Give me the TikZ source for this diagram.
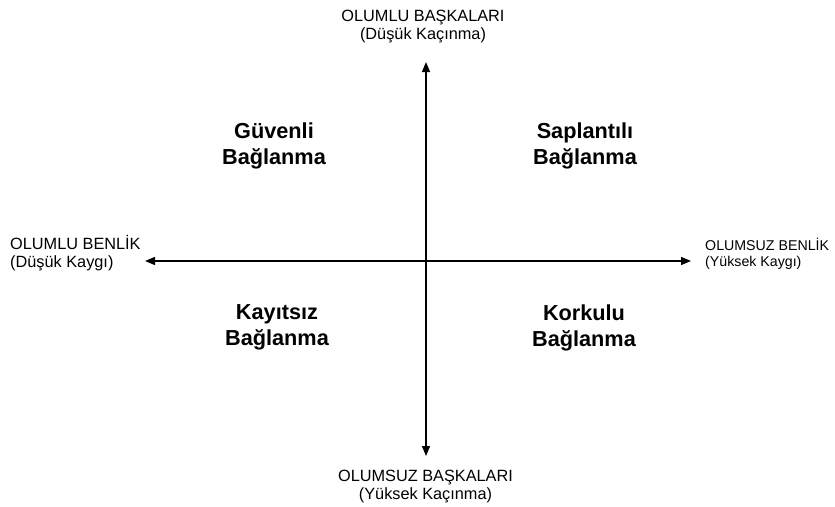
\documentclass[tikz,border=0pt]{standalone}
\usepackage{fontspec}
\setmainfont{Liberation Sans}
\usetikzlibrary{arrows.meta}
\begin{document}
\begin{tikzpicture}[x=1pt,y=-1pt,
  axis/.style={line width=1.3pt,black,{Triangle[length=10pt,width=8pt]}-{Triangle[length=10pt,width=8pt]}},
  endlabel/.style={inner sep=0pt,anchor=base,font=\fontsize{16.3}{18}\selectfont},
  quad/.style={inner sep=0pt,anchor=base,align=center,font=\fontsize{21.7}{25.5}\selectfont\bfseries}]
\useasboundingbox (0,0) rectangle (835,506);
\coordinate (up) at (426,62);
\coordinate (down) at (426,456);
\coordinate (left) at (145,261);
\coordinate (right) at (691,261);
\draw[axis] (down) -- (up);
\draw[axis] (left) -- (right);
\node[endlabel,align=center] (tl) at (423,39) {OLUMLU BAŞKALARI\\(Düşük Kaçınma)};
\node[endlabel,align=center] (bl) at (425.5,499.5) {OLUMSUZ BAŞKALARI\\(Yüksek Kaçınma)};
\node[endlabel,align=left,anchor=base west] (ll) at (10,267) {OLUMLU BENLİK\\(Düşük Kaygı)};
\node[endlabel,align=left,anchor=base west,font=\fontsize{14.2}{16}\selectfont] (rl) at (705,266) {OLUMSUZ BENLİK\\(Yüksek Kaygı)};
\node[quad] (q1) at (274,164) {Güvenli\\Bağlanma};
\node[quad] (q2) at (585,164) {Saplantılı\\Bağlanma};
\node[quad] (q3) at (277,345) {Kayıtsız\\Bağlanma};
\node[quad] (q4) at (584,346) {Korkulu\\Bağlanma};
\end{tikzpicture}
\end{document}
